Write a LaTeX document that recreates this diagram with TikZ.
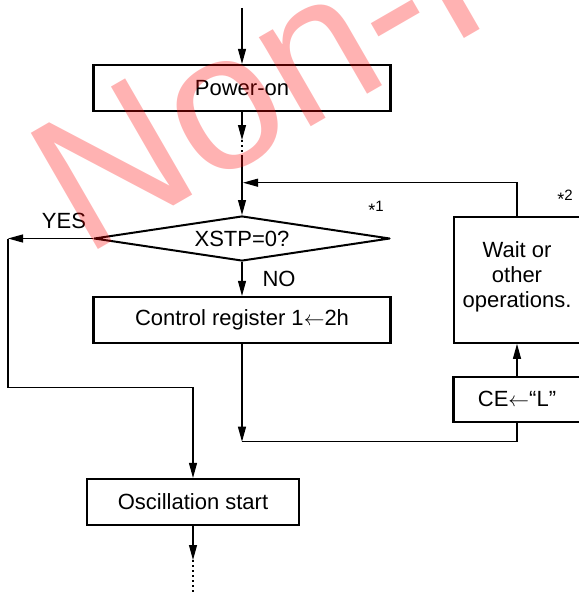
\documentclass[tikz,border=0pt]{standalone}
\usepackage{fontspec}
\setmainfont{Liberation Sans}
\usetikzlibrary{arrows.meta,shapes.geometric}
\begin{document}
\begin{tikzpicture}[x=1pt,y=-1pt,
  box/.style={draw, line width=2.2pt, inner sep=0pt, font=\fontsize{22}{25}\selectfont},
  lbl/.style={inner sep=0pt, font=\fontsize{22}{25}\selectfont},
  note/.style={inner sep=0pt, font=\fontsize{15}{15}\selectfont},
  arr/.style={line width=1.1pt, -{Triangle[length=15pt,width=8pt]}},
  ln/.style={line width=1.1pt},
  dots/.style={line width=1.1pt, dash pattern=on 2pt off 3pt}]
\newcommand{\mystar}{{\fontsize{18}{18}\selectfont\raisebox{-5pt}{*}}}
\useasboundingbox (0,0) rectangle (578,594);
% boxes
\node[box, minimum width=297pt, minimum height=46pt] (pwr) at (242,88) {Power-on};
\node[box, diamond, aspect=6.5, minimum width=296pt, minimum height=45pt, line width=2pt, line join=round] (dec) at (242,238.5) {XSTP=0?};
\node[box, minimum width=297pt, minimum height=46pt] (ctl) at (242,320) {Control register 1$\leftarrow$2h};
\node[box, minimum width=126pt, minimum height=125.4pt] (wait) at (517,280) {};
\node[lbl, align=center] (waittxt) at (517,277) {Wait or\\other\\operations.};
\node[box, minimum width=127pt, minimum height=45pt] (ce) at (517,399.2) {CE$\leftarrow$“L”};
\node[box, minimum width=212pt, minimum height=46pt] (osc) at (193,502) {Oscillation start};
% labels
\node[lbl, anchor=base] (yes) at (64,228.3) {YES};
\node[lbl, anchor=base] (no) at (279,286.7) {NO};
\node[note, anchor=base] (n1) at (376,211.7) {\mystar1};
\node[note, anchor=base] (n2) at (565,200) {\mystar2};
% coordinates
\coordinate (top) at (242,8);
\coordinate (d1) at (242,140);
\coordinate (d2) at (242,157);
\coordinate (j1) at (243,182.7);
\coordinate (yc) at (8,238.5);
\coordinate (c2) at (8,387.7);
\coordinate (c3) at (242,441.7);
\coordinate (e1) at (193,560);
\coordinate (e2) at (193,594);
% connectors
\draw[arr] (top) -- (pwr.north);
\draw[arr] (pwr.south) -- (d1);
\draw[dots] (d1) -- (d2);
\draw[arr] (d2) -- (dec.north);
\draw[arr] (wait.north) |- (j1);
\draw[arr] (dec.west) -- (yc);
\draw[arr] (yc) -- (c2) -| (osc.north);
\draw[arr] (dec.south) -- (ctl.north);
\draw[arr] (ctl.south) -- (c3);
\draw[ln] (ce.south) |- (c3);
\draw[arr] (ce.north) -- (wait.south);
\draw[arr] (osc.south) -- (e1);
\draw[dots] (e1) -- (e2);
% watermark
\node[font=\fontsize{195}{195}\selectfont, text=red, text opacity=0.3, rotate=30, anchor=base west, inner sep=0pt] (wm) at (84,258) {Non-R};
\end{tikzpicture}
\end{document}
